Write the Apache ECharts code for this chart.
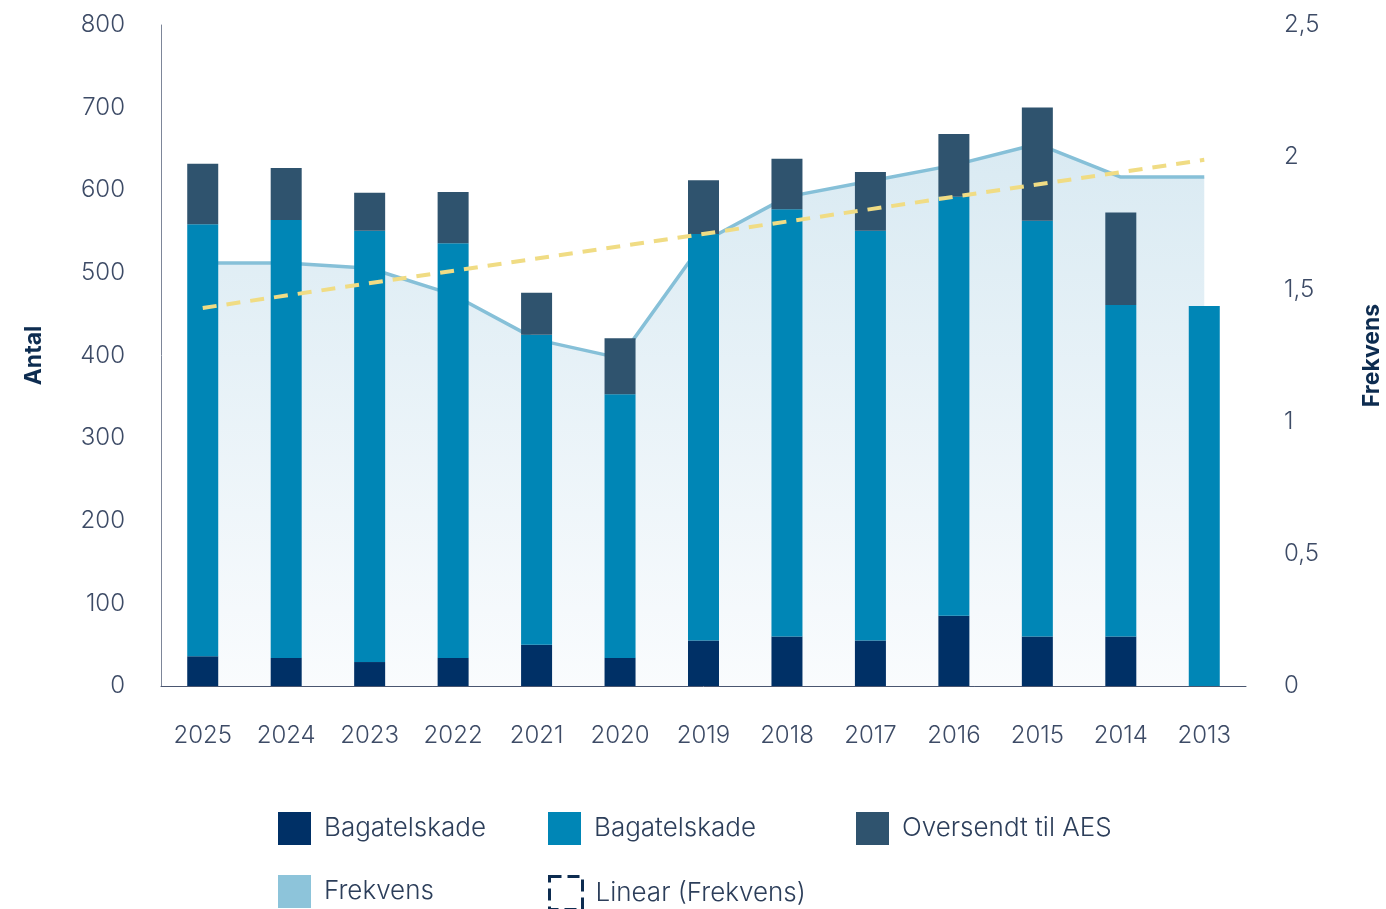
<!DOCTYPE html>
<html>
<head>
<meta charset="utf-8">
<script src="https://cdn.jsdelivr.net/npm/echarts@6/dist/echarts.min.js"></script>
<style>
  html, body { margin: 0; padding: 0; background: #fff; }
  #chart { width: 1386px; height: 909px; }
</style>
</head>
<body>
<div id="chart"></div>
<script>
const years = ['2025', '2024', '2023', '2022', '2021', '2020', '2019', '2018', '2017', '2016', '2015', '2014', '2013'];
const bagatelDark = [36, 34, 29, 34, 50, 34, 55, 60, 55, 85, 60, 60, 0];
const bagatelBlue = [523, 530, 522, 502, 375, 319, 492, 517, 496, 507, 503, 401, 460];
const oversendtAES = [73, 63, 46, 62, 51, 68, 65, 61, 71, 76, 137, 112, 0];
const frekvens = [1.60, 1.60, 1.58, 1.48, 1.31, 1.24, 1.68, 1.85, 1.91, 1.97, 2.05, 1.925, 1.925];
// trendlinjen aflæst ved første og sidste år
const trendStart = 1.43;
const trendEnd = 1.99;

const font = 'Inter, Lato, "Noto Sans", sans-serif';
const tickColor = '#3d4b66';
const titleColor = '#0d2c50';

const chart = echarts.init(document.getElementById('chart'));

const trendData = years.map((y, i) => i === 0 ? trendStart : (i === years.length - 1 ? trendEnd : null));

const legendText = { color: '#2c3e5a', fontSize: 26, fontFamily: font, fontWeight: 300, padding: [0, 0, 0, 8] };
function legendItem(left, top, name, itemStyle) {
  return {
    left, top,
    padding: 0,
    itemWidth: 33, itemHeight: 33,
    icon: 'rect',
    textStyle: legendText,
    selectedMode: false,
    data: [{ name, icon: 'rect', itemStyle }]
  };
}

const option = {
  animation: false,
  backgroundColor: '#fff',
  grid: { left: 161, right: 140, top: 25, bottom: 223, outerBoundsMode: 'none', containLabel: false },
  legend: [
    legendItem(278, 812, 'Bagatelskade', { color: '#003066' }),
    legendItem(548, 812, 'Bagatelskade ', { color: '#0086b6' }),
    legendItem(856, 812, 'Oversendt til AES', { color: '#2f536e' }),
    legendItem(278, 875, 'Frekvens', { color: '#8dc4da' }),
    legendItem(548, 875, 'Linear (Frekvens)', { color: 'transparent', borderColor: '#0d2c50', borderWidth: 3, borderType: 'dashed' })
  ],
  xAxis: {
    type: 'category',
    data: years,
    axisLine: { lineStyle: { color: '#4a5670', width: 1 } },
    axisTick: { show: false },
    axisLabel: { color: tickColor, fontSize: 24, fontFamily: font, fontWeight: 300, margin: 38 }
  },
  yAxis: [
    {
      type: 'value',
      min: 0, max: 800, interval: 100,
      name: 'Antal',
      nameLocation: 'middle',
      nameRotate: 90,
      nameGap: 115,
      nameTextStyle: { color: titleColor, fontSize: 23, fontWeight: 'bold', fontFamily: font },
      axisLine: { show: true, lineStyle: { color: '#7d8699', width: 1 } },
      axisTick: { show: false },
      splitLine: { show: false },
      axisLabel: { color: tickColor, fontSize: 24, fontFamily: font, fontWeight: 300, margin: 36 }
    },
    {
      type: 'value',
      min: 0, max: 2.5, interval: 0.5,
      name: 'Frekvens',
      nameLocation: 'middle',
      nameRotate: 90,
      nameGap: 115,
      nameTextStyle: { color: titleColor, fontSize: 23, fontWeight: 'bold', fontFamily: font },
      axisLine: { show: false },
      axisTick: { show: false },
      splitLine: { show: false },
      axisLabel: {
        color: tickColor, fontSize: 24, fontFamily: font, fontWeight: 300, margin: 38,
        formatter: v => String(v).replace('.', ',')
      }
    }
  ],
  series: [
    {
      name: 'Frekvens',
      type: 'line',
      yAxisIndex: 1,
      data: frekvens,
      z: 1,
      symbol: 'none',
      lineStyle: { color: '#86c0d8', width: 3.5 },
      itemStyle: { color: '#8dc4da' },
      areaStyle: {
        color: new echarts.graphic.LinearGradient(0, 0, 0, 1, [
          { offset: 0, color: '#c9e1ed' },
          { offset: 1, color: '#f7fafd' }
        ])
      }
    },
    {
      name: 'Bagatelskade',
      type: 'bar',
      stack: 'antal',
      barWidth: 31,
      z: 2,
      data: bagatelDark,
      itemStyle: { color: '#003066' }
    },
    {
      name: 'Bagatelskade ',
      type: 'bar',
      stack: 'antal',
      barWidth: 31,
      z: 2,
      data: bagatelBlue,
      itemStyle: { color: '#0086b6' }
    },
    {
      name: 'Oversendt til AES',
      type: 'bar',
      stack: 'antal',
      barWidth: 31,
      z: 2,
      data: oversendtAES,
      itemStyle: { color: '#2f536e' }
    },
    {
      name: 'Linear (Frekvens)',
      type: 'line',
      yAxisIndex: 1,
      data: trendData,
      connectNulls: true,
      z: 3,
      symbol: 'none',
      lineStyle: { color: '#f0dc84', width: 4, type: [14, 10] },
      itemStyle: { color: '#f0dc84' }
    }
  ]
};

chart.setOption(option);
</script>
</body>
</html>
